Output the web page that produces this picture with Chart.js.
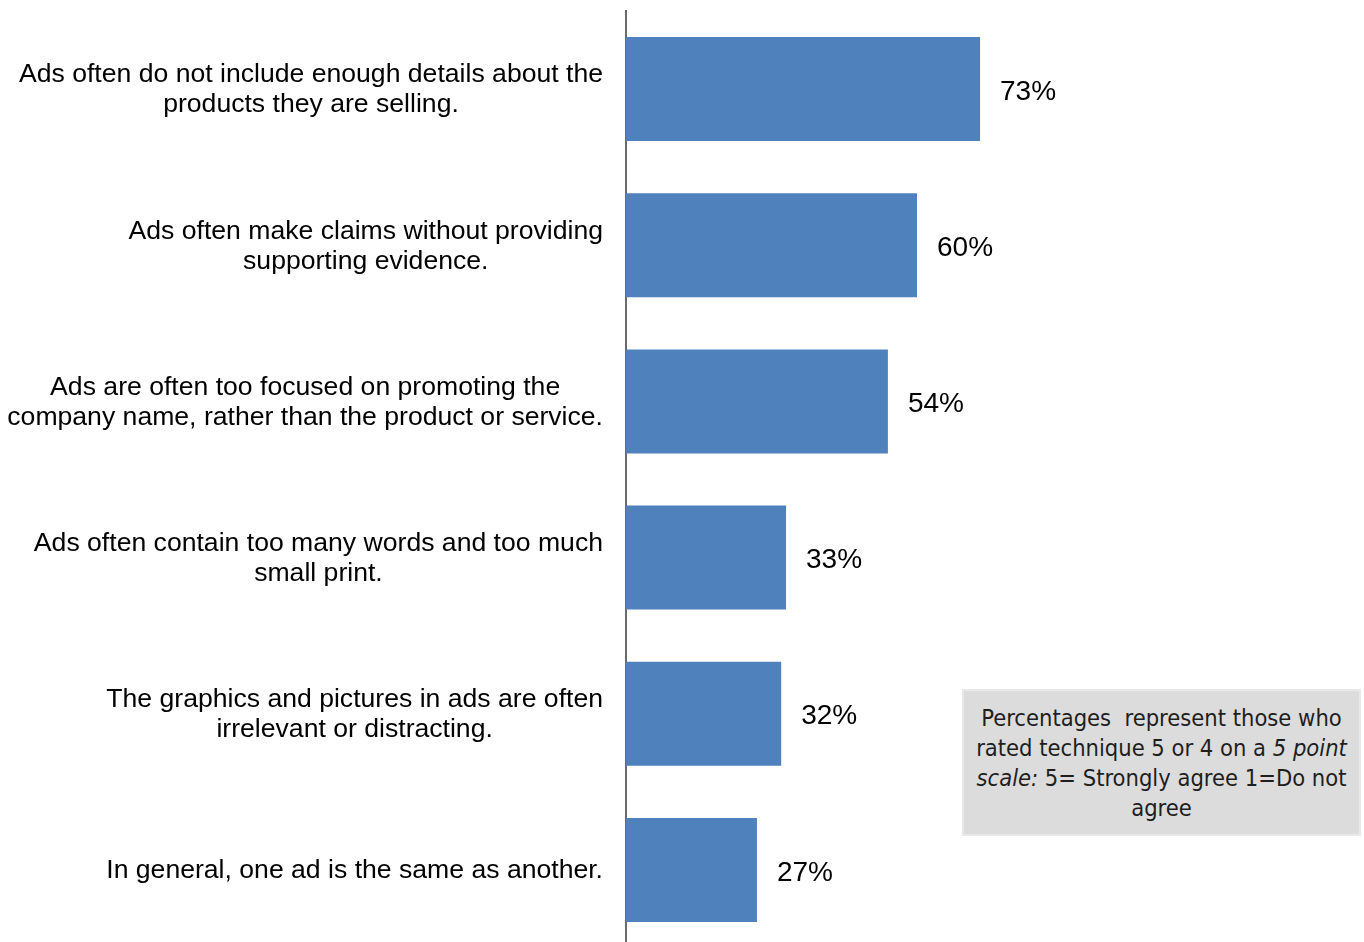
<!DOCTYPE html>
<html>
<head>
<meta charset="utf-8">
<script src="https://cdn.jsdelivr.net/npm/chart.js@4"></script>
<style>
  html, body { margin: 0; padding: 0; background: #fff; overflow: hidden; }
  #wrap { position: relative; width: 1364px; height: 950px; }
  #note {
    position: absolute; left: 962px; top: 689px; width: 399px; height: 147px;
    background: #dcdcdc; border: 2px solid #e8e8e8;
    font-family: "Liberation Sans Narrow", "DejaVu Sans Condensed", "Liberation Sans", Arial, sans-serif;
    font-size: 23.5px; line-height: 30px; color: #1e1e1e; text-align: center;
    padding-top: 12px; box-sizing: border-box;
  }
</style>
</head>
<body>
<div id="wrap">
  <canvas id="chart" width="1364" height="950"></canvas>
  <div id="note">Percentages&nbsp; represent those who<br>rated technique 5 or 4 on a <i>5 point</i><br><i>scale:</i> 5= Strongly agree 1=Do not<br>agree</div>
</div>
<script>
const categories = [
  ["Ads often do not include enough details about the", "products they are selling."],
  ["Ads often make claims without providing", "supporting evidence."],
  ["Ads are often too focused on promoting the", "company name, rather than the product or service."],
  ["Ads often contain too many words and too much", "small print."],
  ["The graphics and pictures in ads are often", "irrelevant or distracting."],
  ["In general, one ad is the same as another."],
];
const values = [73, 60, 54, 33, 32, 27];

const categoryLabels = {
  id: "categoryLabels",
  afterDraw(chart) {
    const ctx = chart.ctx;
    const y = chart.scales.y;
    const right = chart.chartArea.left - 23;
    ctx.save();
    ctx.font = "26.6px 'Liberation Sans', Arial, sans-serif";
    ctx.fillStyle = "#000";
    ctx.textAlign = "center";
    ctx.textBaseline = "middle";
    categories.forEach((lines, i) => {
      const widest = Math.max(...lines.map((l) => ctx.measureText(l).width));
      const cx = right - widest / 2;
      const cy = y.getPixelForValue(i) + 1;
      const top = cy - ((lines.length - 1) * 30) / 2;
      lines.forEach((l, j) => ctx.fillText(l, cx, top + j * 30));
    });
    ctx.restore();
  },
};

const valueLabels = {
  id: "valueLabels",
  afterDatasetsDraw(chart) {
    const ctx = chart.ctx;
    const meta = chart.getDatasetMeta(0);
    ctx.save();
    ctx.font = "28px 'Liberation Sans', Arial, sans-serif";
    ctx.fillStyle = "#000";
    ctx.textAlign = "left";
    ctx.textBaseline = "middle";
    meta.data.forEach((bar, i) => {
      ctx.fillText(values[i] + "%", bar.x + 20, bar.y + 3);
    });
    ctx.restore();
  },
};

new Chart(document.getElementById("chart").getContext("2d"), {
  type: "bar",
  data: {
    labels: categories.map((c) => c.join(" ")),
    datasets: [
      {
        data: values,
        backgroundColor: "#4f81bd",
        borderWidth: 0,
        categoryPercentage: 1,
        barPercentage: 0.666,
      },
    ],
  },
  options: {
    indexAxis: "y",
    responsive: false,
    animation: false,
    layout: { padding: { left: 618, right: 253, top: 11, bottom: 2 } },
    plugins: { legend: { display: false }, tooltip: { enabled: false } },
    scales: {
      x: { display: false, min: 0, max: 100 },
      y: {
        ticks: { display: false },
        grid: { display: false },
        border: { display: true, color: "#6b6b6b", width: 2 },
      },
    },
  },
  plugins: [categoryLabels, valueLabels],
});
</script>
</body>
</html>
